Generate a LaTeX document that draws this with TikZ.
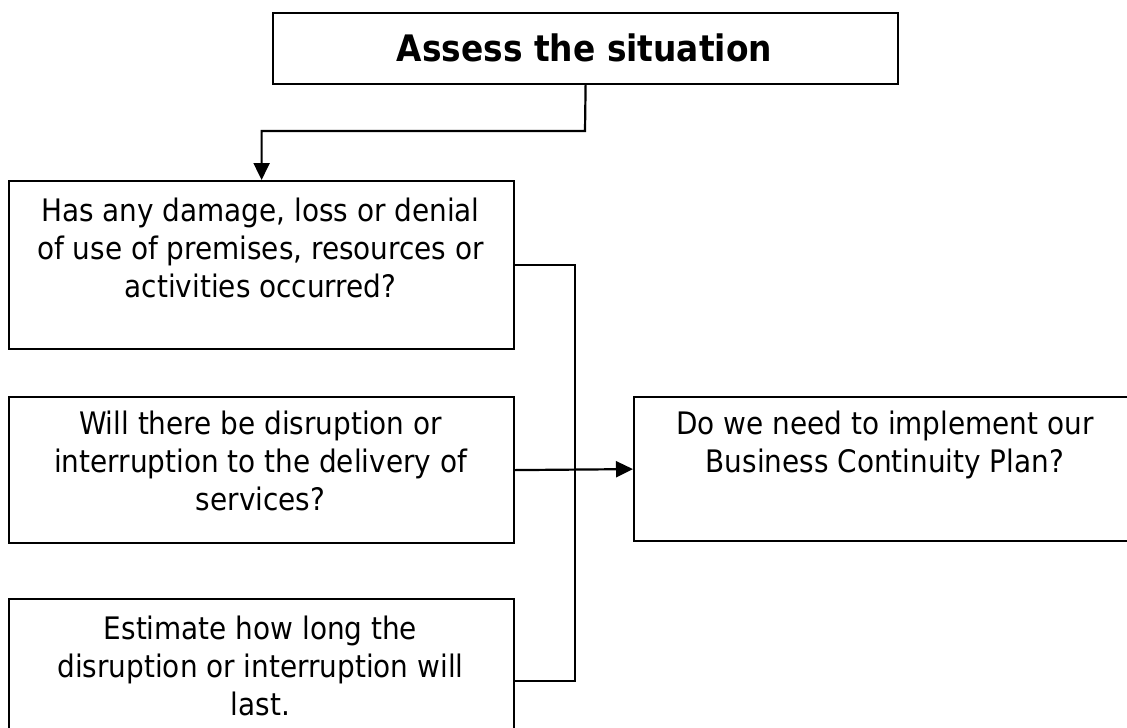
\documentclass[tikz,border=0pt]{standalone}
\usepackage{fontspec}
\setmainfont{DejaVu Sans Condensed}
\usetikzlibrary{arrows.meta}
\begin{document}
\begin{tikzpicture}[x=1pt,y=-1pt,
  boxshape/.style={draw=black,line width=2.2pt,rectangle,inner sep=0pt,anchor=north west},
  boxtext/.style={inner sep=0pt,anchor=north,align=center,font=\fontsize{31}{38}\selectfont},
  conn/.style={draw=black,line width=2.2pt},
  arr/.style={conn,-{Triangle[length=17pt,width=16pt]}}]
\useasboundingbox (0,0) rectangle (1127,728);
\begin{scope}
\clip (0,0) rectangle (1127,728);
\node[boxshape,minimum width=625pt,minimum height=71pt] (top) at (272,12) {};
\node[boxshape,minimum width=505pt,minimum height=168pt] (b1) at (8,180) {};
\node[boxshape,minimum width=505pt,minimum height=146pt] (b2) at (8,396) {};
\node[boxshape,minimum width=505pt,minimum height=164pt] (b3) at (8,598) {};
\node[boxshape,minimum width=504pt,minimum height=144pt] (r) at (633,396) {};

\node[inner sep=0pt,anchor=base,font=\bfseries\fontsize{36.5}{44}\selectfont] (toptext) at (584.5,61) {Assess the situation};
\node[boxtext] (b1text) at (260.5,198) {Has any damage, loss or denial\\of use of premises, resources or\\activities occurred?};
\node[boxtext] (b2text) at (260.5,411) {Will there be disruption or\\interruption to the delivery of\\services?};
\node[boxtext] (b3text) at (260.5,616) {Estimate how long the\\disruption or interruption will\\last.};
\node[boxtext] (rtext) at (885,411) {Do we need to implement our\\Business Continuity Plan?};

\coordinate (bend) at (585,131);
\draw[arr] (top.south) -- (bend) -| (b1.north);
\draw[conn] (b1.east) -- ++(60,0) |- (b3.east);
\draw[arr] (b2.east) -- (r.west);
\end{scope}
\end{tikzpicture}
\end{document}
